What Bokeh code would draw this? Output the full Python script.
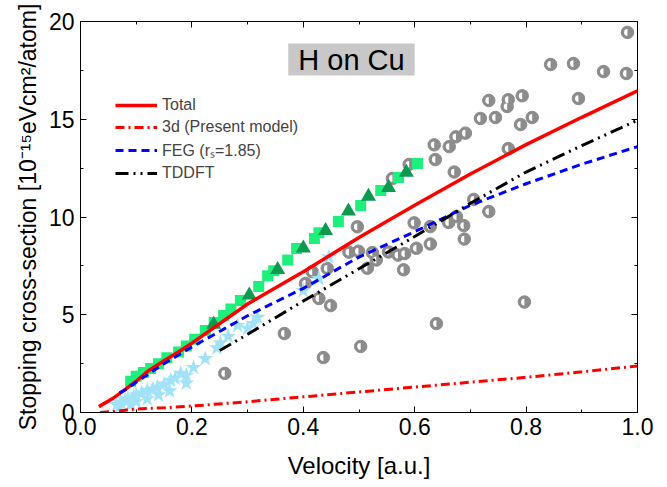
import math
from bokeh.plotting import figure
from bokeh.models import (Range1d, LinearAxis, SingleIntervalTicker, Legend, LegendItem,
                          Label, NumeralTickFormatter, CustomJSTickFormatter)
from bokeh.embed import file_html
from bokeh.resources import INLINE

# ---------------- data ----------------
total_v = [0.033, 0.057, 0.078, 0.10, 0.12, 0.15, 0.18, 0.20, 0.30, 0.40, 0.50, 0.60, 0.70, 0.80, 0.90, 1.00]
total_s = [0.30, 0.70, 1.13, 1.60, 2.10, 2.65, 3.17, 3.55, 5.55, 7.20, 8.95, 10.6, 12.2, 13.7, 15.1, 16.45]

d3_v = [0.035, 0.06, 0.08, 0.10, 0.15, 0.20, 0.30, 0.40, 0.50, 0.60, 0.70, 0.80, 0.90, 1.00]
d3_s = [0.0, 0.05, 0.12, 0.18, 0.24, 0.33, 0.55, 0.80, 1.05, 1.30, 1.55, 1.80, 2.08, 2.38]

feg_v = [0.07, 0.08, 0.10, 0.15, 0.20, 0.30, 0.40, 0.50, 0.60, 0.70, 0.80, 0.90, 1.00]
feg_s = [1.00, 1.15, 1.55, 2.50, 3.35, 4.95, 6.35, 7.95, 9.25, 10.6, 11.7, 12.7, 13.6]

tddft_v = [0.25, 0.30, 0.35, 0.40, 0.50, 0.60, 0.70, 0.80, 0.90, 1.00]
tddft_s = [3.17, 4.00, 4.85, 5.70, 7.35, 9.00, 10.7, 12.3, 13.65, 14.95]

exp_circ_v = [0.259, 0.366, 0.404, 0.416, 0.428, 0.436, 0.443, 0.449, 0.482, 0.497, 0.499, 0.503,
              0.515, 0.524, 0.531, 0.553, 0.560, 0.570, 0.582, 0.580, 0.590, 0.599, 0.603, 0.628,
              0.628, 0.635, 0.637, 0.639, 0.661, 0.662, 0.671, 0.674, 0.675, 0.688, 0.689, 0.691,
              0.706, 0.718, 0.733, 0.733, 0.745, 0.766, 0.768, 0.768, 0.790, 0.793, 0.797, 0.811,
              0.844, 0.885, 0.894, 0.939, 0.980, 0.982]
exp_circ_s = [2.00, 4.04, 6.60, 7.20, 5.83, 2.81, 7.37, 5.47, 8.20, 9.50, 8.25, 3.38,
              7.38, 8.18, 7.80, 8.21, 11.97, 8.05, 8.13, 7.30, 12.69, 9.70, 8.40, 9.51,
              8.62, 13.69, 12.94, 4.55, 9.72, 13.60, 12.30, 14.10, 10.02, 9.56, 8.87, 14.29,
              10.90, 15.04, 10.28, 15.96, 15.09, 15.65, 16.00, 13.50, 14.73, 16.20, 5.65, 15.09,
              17.80, 17.85, 16.06, 17.44, 17.34, 19.44]

exp_sq_v = [0.09, 0.10, 0.113, 0.126, 0.14, 0.155, 0.176, 0.19, 0.205, 0.224, 0.24, 0.257,
            0.27, 0.287, 0.32, 0.336, 0.347, 0.372, 0.388, 0.42, 0.428, 0.463, 0.503, 0.539,
            0.571, 0.605]
exp_sq_s = [1.60, 1.85, 2.05, 2.25, 2.50, 2.80, 3.10, 3.40, 3.75, 4.19, 4.60, 4.96,
            5.30, 5.73, 6.44, 7.00, 7.25, 7.80, 8.39, 8.90, 9.20, 9.77, 10.59, 11.36,
            12.02, 12.74]

exp_tri_v = [0.239, 0.303, 0.354, 0.400, 0.440, 0.481, 0.517, 0.553, 0.585]
exp_tri_s = [4.50, 6.00, 7.30, 8.40, 9.30, 10.30, 11.05, 11.50, 12.28]

exp_star_v = [0.065, 0.07, 0.072, 0.08, 0.085, 0.09, 0.095, 0.10, 0.10, 0.11, 0.12, 0.12, 0.13,
              0.138, 0.14, 0.15, 0.16, 0.162, 0.17, 0.18, 0.19, 0.19, 0.203, 0.224, 0.245,
              0.251, 0.265, 0.282, 0.30, 0.31, 0.318, 0.40, 0.428, 0.446]
exp_star_s = [0.40, 0.30, 0.50, 0.65, 0.70, 0.40, 0.80, 0.90, 0.55, 1.00, 1.13, 0.70, 1.20,
              1.30, 0.90, 1.45, 1.10, 1.64, 1.75, 2.00, 1.90, 1.50, 2.30, 2.75, 3.30,
              3.55, 3.90, 4.45, 4.30, 4.55, 4.86, 6.24, 6.85, 7.95]

x_ticks_interval = 0.2
y_ticks_interval = 5

FONT = "Liberation Sans"

p = figure(width=667, height=487, output_backend="svg", toolbar_location=None,
           x_range=Range1d(0, 1), y_range=Range1d(0, 20),
           min_border_left=80, min_border_right=30, min_border_top=21, min_border_bottom=75)
p.background_fill_color = "white"
p.border_fill_color = "white"
p.outline_line_color = "black"
p.outline_line_width = 1
p.xgrid.visible = False
p.ygrid.visible = False


def style_axis(ax, labels=True):
    ax.major_tick_in = 6
    ax.major_tick_out = 0
    ax.minor_tick_in = 3
    ax.minor_tick_out = 0
    ax.axis_line_color = "black"
    ax.major_tick_line_color = "black"
    ax.minor_tick_line_color = "black"
    ax.major_label_text_font = FONT
    ax.major_label_text_font_size = "23px"
    ax.major_label_text_color = "black"
    ax.axis_label_text_font = FONT
    ax.axis_label_text_font_size = "24px"
    ax.axis_label_text_font_style = "normal"
    ax.axis_label_text_color = "black"
    if not labels:
        ax.formatter = CustomJSTickFormatter(code="return '';")


xa = p.xaxis[0]
xa.ticker = SingleIntervalTicker(interval=x_ticks_interval, num_minor_ticks=2)
xa.formatter = NumeralTickFormatter(format="0.0")
xa.axis_label = "Velocity [a.u.]"
style_axis(xa)
xa.major_label_standoff = 5
xa.axis_label_standoff = 14

ya = p.yaxis[0]
ya.ticker = SingleIntervalTicker(interval=y_ticks_interval, num_minor_ticks=2)
ya.axis_label = "Stopping cross-section [10\u207b\u00b9\u2075eVcm\u00b2/atom]"
style_axis(ya)
ya.axis_label_text_font_size = "23px"
ya.major_label_standoff = 6
ya.axis_label_standoff = 5

top = LinearAxis(ticker=SingleIntervalTicker(interval=x_ticks_interval, num_minor_ticks=2))
style_axis(top, labels=False)
top.major_label_standoff = 0
p.add_layout(top, "above")
right = LinearAxis(ticker=SingleIntervalTicker(interval=y_ticks_interval, num_minor_ticks=2))
style_axis(right, labels=False)
right.major_label_standoff = 0
p.add_layout(right, "right")

# experimental points
p.scatter(exp_circ_v, exp_circ_s, marker="circle", size=12.5,
          fill_color="#8c8c8c", line_color="#8c8c8c")
p.wedge(x=exp_circ_v, y=exp_circ_s, radius=3.4, radius_units="screen",
        start_angle=math.pi / 2, end_angle=3 * math.pi / 2,
        fill_color="white", line_color=None)
p.scatter(exp_sq_v, exp_sq_s, marker="square", size=11, fill_color="#1ef07c", line_color=None)
p.scatter(exp_tri_v, exp_tri_s, marker="triangle", size=15, fill_color="#0b9a50", line_color=None)
p.scatter(exp_star_v, exp_star_s, marker="star", size=17, fill_color="#a2e2f6", line_color=None)

# theory lines
r_total = p.line(total_v, total_s, line_color="#ff0000", line_width=3.5)
r_d3 = p.line(d3_v, d3_s, line_color="#ff0000", line_width=3, line_dash="9 4 2 4")
r_feg = p.line(feg_v, feg_s, line_color="#0000ff", line_width=3, line_dash="8 5")
r_td = p.line(tddft_v, tddft_s, line_color="black", line_width=3, line_dash="13 5 2 5 2 5")

legend = Legend(items=[
    LegendItem(label="Total", renderers=[r_total]),
    LegendItem(label="3d (Present model)", renderers=[r_d3]),
    LegendItem(label="FEG (r\u209b=1.85)", renderers=[r_feg]),
    LegendItem(label="TDDFT", renderers=[r_td]),
], location=(35, 229))
legend.padding = 0
legend.margin = 0
legend.spacing = 2
legend.glyph_width = 42
legend.glyph_height = 20
legend.label_height = 20
legend.label_standoff = 5
legend.label_text_font = FONT
legend.label_text_font_size = "16px"
legend.border_line_alpha = 0
legend.background_fill_alpha = 0
p.add_layout(legend)

title = Label(x=0.4865, y=18.05, text="H on Cu", text_align="center", text_baseline="middle",
              text_font=FONT, text_font_size="29px", text_color="black",
              background_fill_color="#c8c8c8", padding=(10, 0))
p.add_layout(title)

open("out.html", "w").write(file_html(p, INLINE))
